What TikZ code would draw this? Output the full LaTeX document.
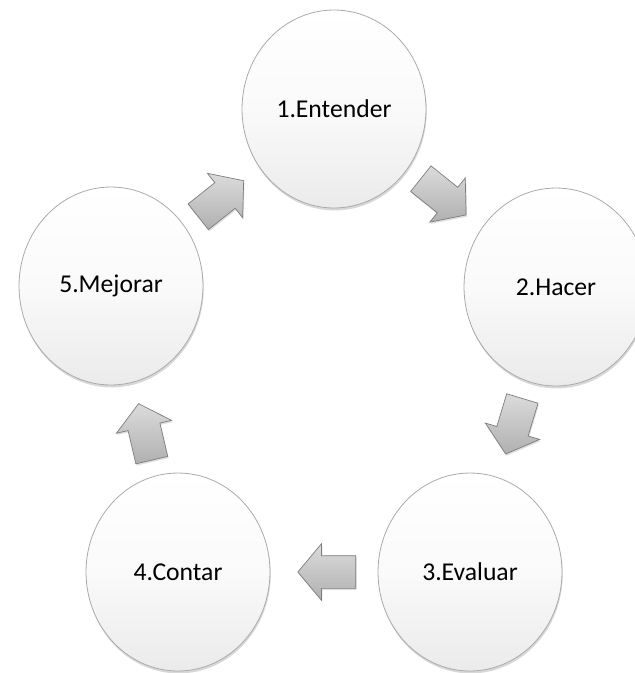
\documentclass[tikz,border=0pt]{standalone}
\usepackage{fontspec}
\setmainfont{Carlito}
\usetikzlibrary{shapes.geometric,shapes.arrows,shadows,positioning,calc}
\definecolor{rimgray}{RGB}{170,170,170}
\definecolor{arrowgray}{RGB}{125,125,125}

\tikzset{
  stage/.style={ellipse, minimum width=3.68cm, minimum height=3.96cm, inner sep=0pt,
    draw=rimgray, line width=0.45pt,
    top color=white, bottom color=gray!16, middle color=gray!4,
    drop shadow={opacity=0.3, shadow xshift=0.4pt, shadow yshift=-1.4pt},
    font=\fontsize{14.6}{17}\selectfont},
  cyclearrow/.style={single arrow, draw=arrowgray, line width=0.4pt,
    minimum height=1.16cm, inner xsep=0pt, inner ysep=0.32cm,
    single arrow head extend=0.24cm, single arrow tip angle=100,
    top color=gray!28, bottom color=gray!62,
    drop shadow={opacity=0.25, shadow xshift=0.5pt, shadow yshift=-1pt},
    sloped, allow upside down, anchor=tail, pos=0.39}
}

\begin{document}
\begin{tikzpicture}[x=0.02cm, y=-0.02cm]
    \useasboundingbox[fill=white] (0,0) rectangle (635,673);

    % the five stages
    \node[stage] (s1) at (334,109) {1.Entender};
    \node[stage] (s2) at (556,287) {2.Hacer};
    \node[stage] (s3) at (470,572) {3.Evaluar};
    \node[stage] (s4) at (178,572) {4.Contar};
    \node[stage] (s5) at (111,286) {5.Mejorar};

    % arrows between stages
    \path (s1.center) -- (s2.center) node[cyclearrow] (a12) {};
    \path (s2.center) -- (s3.center) node[cyclearrow] (a23) {};
    \path (s3.center) -- (s4.center) node[cyclearrow] (a34) {};
    \path (s4.center) -- (s5.center) node[cyclearrow] (a45) {};
    \path (s5.center) -- (s1.center) node[cyclearrow] (a51) {};
\end{tikzpicture}
\end{document}
